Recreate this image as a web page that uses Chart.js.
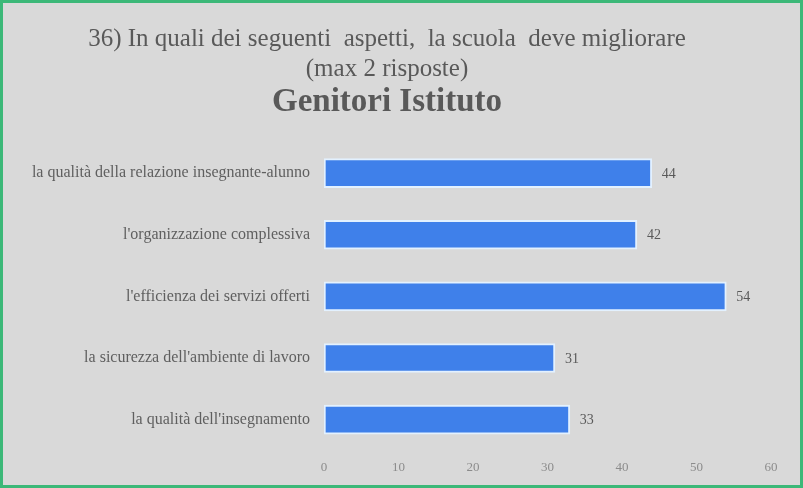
<!DOCTYPE html>
<html>
<head>
<meta charset="utf-8">
<script src="https://cdn.jsdelivr.net/npm/chart.js@4/dist/chart.umd.min.js"></script>
<style>
  html, body { margin: 0; padding: 0; background: #ffffff; }
  .frame {
    width: 803px; height: 488px; box-sizing: border-box;
    border: 3px solid #3cb878; background: #d9d9d9;
  }
  canvas { display: block; }
</style>
</head>
<body>
<div class="frame">
  <canvas id="chart" width="797" height="482"></canvas>
</div>
<script>
const categories = [
  'la qualità della relazione insegnante-alunno',
  "l'organizzazione complessiva",
  "l'efficienza dei servizi offerti",
  "la sicurezza dell'ambiente di lavoro",
  "la qualità dell'insegnamento"
];
const values = [44, 42, 54, 31, 33];
const xTicks = [0, 10, 20, 30, 40, 50, 60];

const serif = '"Liberation Serif", "DejaVu Serif", serif';

// small inline plugin for the value labels at the end of each bar
const barValues = {
  id: 'barValues',
  afterDatasetsDraw(chart) {
    const ctx = chart.ctx;
    const meta = chart.getDatasetMeta(0);
    ctx.save();
    ctx.font = '14px ' + serif;
    ctx.fillStyle = '#595959';
    ctx.textAlign = 'left';
    ctx.textBaseline = 'middle';
    meta.data.forEach((bar, i) => {
      ctx.fillText(String(values[i]), bar.x + 10, bar.y + 1);
    });
    ctx.restore();
  }
};

new Chart(document.getElementById('chart').getContext('2d'), {
  type: 'bar',
  data: {
    labels: categories,
    datasets: [{
      data: values,
      backgroundColor: '#3f80ea',
      borderColor: '#e3f1ff',
      borderWidth: 2,
      borderSkipped: false,
      barThickness: 29
    }]
  },
  options: {
    indexAxis: 'y',
    responsive: false,
    animation: false,
    layout: { padding: { top: 0, right: 29, bottom: 1, left: 0 } },
    plugins: {
      legend: { display: false },
      tooltip: { enabled: false },
      title: {
        display: true,
        text: ['36) In quali dei seguenti  aspetti,  la scuola  deve migliorare', '(max 2 risposte)'],
        color: '#595959',
        font: { family: serif, size: 25, weight: 'normal', lineHeight: 1.2 },
        padding: { top: 21, bottom: 0 }
      },
      subtitle: {
        display: true,
        text: 'Genitori Istituto',
        color: '#595959',
        font: { family: serif, size: 33, weight: 'bold', lineHeight: 1.1 },
        padding: { top: 0, bottom: 22 }
      }
    },
    scales: {
      x: {
        min: 0,
        max: 60,
        afterBuildTicks(scale) { scale.ticks = xTicks.map(v => ({ value: v })); },
        grid: { display: false, drawTicks: false },
        border: { display: false },
        ticks: { color: '#8c8c8c', padding: 9, font: { family: serif, size: 13 } }
      },
      y: {
        grid: { display: false, drawTicks: false },
        border: { display: false },
        afterFit(scale) { scale.width = 321; },
        ticks: { color: '#5f5f5f', padding: 14, font: { family: serif, size: 16 } }
      }
    }
  },
  plugins: [barValues]
});
</script>
</body>
</html>
